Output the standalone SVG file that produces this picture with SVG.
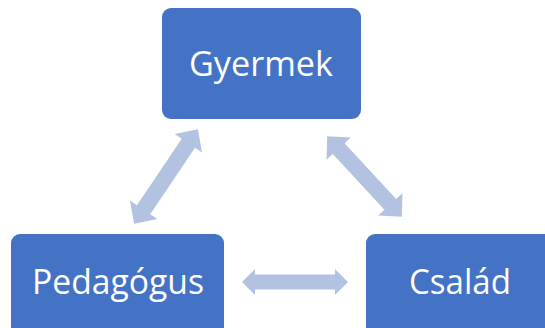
<svg xmlns="http://www.w3.org/2000/svg" width="545" height="328" viewBox="0 0 545 328">
<style>
.box{fill:#4472C4;}
.lbl{fill:#FFFFFF;font-family:"Open Sans","Noto Sans",sans-serif;font-size:35px;text-anchor:middle;}
.arr{fill:#B4C2E2;}
</style>
<rect width="545" height="328" fill="#FFFFFF"/>
<g id="connectors">
<polygon class="arr" transform="translate(295,282)" points="-53,0 -40,-13 -40,-7.5 40,-7.5 40,-13 53,0 40,13 40,7.5 -40,7.5 -40,13"/>
<polygon class="arr" transform="translate(166,176.5) rotate(-56)" points="-57,0 -40,-16.5 -40,-8 40,-8 40,-16.5 57,0 40,16.5 40,8 -40,8 -40,16.5"/>
<polygon class="arr" transform="translate(364.5,176.5) rotate(47.2)" points="-55,0 -38,-16.5 -38,-8 38,-8 38,-16.5 55,0 38,16.5 38,8 -38,8 -38,16.5"/>
</g>
<g id="node-gyermek">
<rect class="box" x="162" y="8" width="199" height="111" rx="9"/>
<text class="lbl" x="261" y="76" textLength="144" lengthAdjust="spacingAndGlyphs">Gyermek</text>
</g>
<g id="node-pedagogus">
<rect class="box" x="11" y="234" width="213" height="110" rx="9"/>
<text class="lbl" x="118" y="294" textLength="172" lengthAdjust="spacingAndGlyphs">Pedagógus</text>
</g>
<g id="node-csalad">
<rect class="box" x="366" y="234" width="200" height="110" rx="9"/>
<text class="lbl" x="460" y="294" textLength="102" lengthAdjust="spacingAndGlyphs">Család</text>
</g>
</svg>
